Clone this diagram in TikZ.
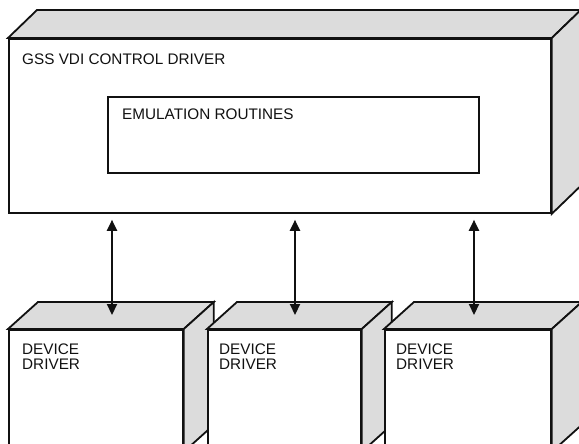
\documentclass[tikz,border=0pt]{standalone}
\usepackage{fontspec}
\setmainfont{Liberation Sans}
\usetikzlibrary{arrows.meta,positioning,calc}
\definecolor{ink}{HTML}{111111}
\definecolor{speckle}{HTML}{DCDCDC}
\tikzset{
  face/.style={draw=ink,fill=white,line width=1.8pt,inner sep=0pt,anchor=north west},
  lid/.style={draw=ink,fill=speckle,line width=1.8pt,line join=miter},
  caption/.style={inner sep=0pt,anchor=base west,font=\fontsize{15.3}{15}\selectfont,text=ink},
  stack/.style={inner sep=0pt,anchor=north west,align=left,font=\fontsize{15.3}{15}\selectfont,text=ink},
  link/.style={{Triangle[length=11pt,width=10pt]}-{Triangle[length=11pt,width=10pt]},line width=2.2pt,draw=ink}
}

\begin{document}
\begin{tikzpicture}[x=1pt,y=-1pt]
    \useasboundingbox (0,0) rectangle (579,444);
    \clip (0,0) rectangle (579,444);

    % control driver
    \node[face,minimum width=542pt,minimum height=174pt] (gss) at (8,38) {};
    \draw[lid] (gss.north west) -- ++(29,-28) -- ([shift={(29,-28)}]gss.north east) -- (gss.north east) -- cycle;
    \draw[lid] (gss.north east) -- ++(29,-28) -- ([shift={(29,-28)}]gss.south east) -- (gss.south east) -- cycle;
    \node[caption] (gsstext) at ([shift={(14,27)}]gss.north west) {GSS VDI CONTROL DRIVER};

    \node[face,minimum width=371pt,minimum height=76pt] (emu) at (107,96) {};
    \node[caption] (emutext) at ([shift={(15,24)}]emu.north west) {EMULATION ROUTINES};

    % device drivers
    \node[face,minimum width=174pt,minimum height=121pt] (dev1) at (8,329) {};
    \draw[lid] (dev1.north west) -- ++(30,-27) -- ([shift={(30,-27)}]dev1.north east) -- (dev1.north east) -- cycle;
    \draw[lid] (dev1.north east) -- ++(30,-27) -- ([shift={(30,-27)}]dev1.south east) -- (dev1.south east) -- cycle;
    \node[stack] (dev1text) at ([shift={(14,15)}]dev1.north west) {DEVICE\\DRIVER};

    \node[face,minimum width=153pt,minimum height=121pt] (dev2) at (207,329) {};
    \draw[lid] (dev2.north west) -- ++(30,-27) -- ([shift={(30,-27)}]dev2.north east) -- (dev2.north east) -- cycle;
    \draw[lid] (dev2.north east) -- ++(30,-27) -- ([shift={(30,-27)}]dev2.south east) -- (dev2.south east) -- cycle;
    \node[stack] (dev2text) at ([shift={(12,15)}]dev2.north west) {DEVICE\\DRIVER};

    \node[face,minimum width=166pt,minimum height=121pt] (dev3) at (384,329) {};
    \draw[lid] (dev3.north west) -- ++(30,-27) -- ([shift={(30,-27)}]dev3.north east) -- (dev3.north east) -- cycle;
    \draw[lid] (dev3.north east) -- ++(30,-27) -- ([shift={(30,-27)}]dev3.south east) -- (dev3.south east) -- cycle;
    \node[stack] (dev3text) at ([shift={(12,15)}]dev3.north west) {DEVICE\\DRIVER};

    % links
    \coordinate (lid1) at (112,315);
    \coordinate (lid2) at (295,315);
    \coordinate (lid3) at (474,315);
    \draw[link,shorten <=6pt] (gss.south -| lid1) -- (lid1);
    \draw[link,shorten <=6pt] (gss.south -| lid2) -- (lid2);
    \draw[link,shorten <=6pt] (gss.south -| lid3) -- (lid3);
\end{tikzpicture}
\end{document}
